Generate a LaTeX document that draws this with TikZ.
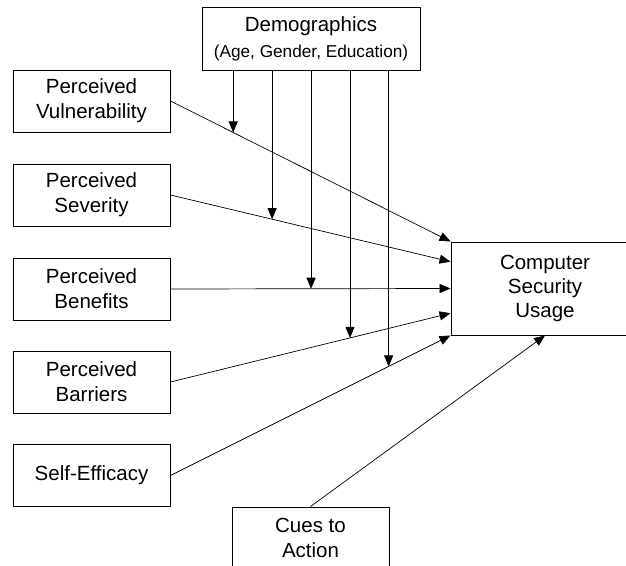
\documentclass[tikz,border=0pt]{standalone}
\usepackage{fontspec}
\setmainfont{Liberation Sans}
\usetikzlibrary{arrows.meta,calc}

\begin{document}
\begin{tikzpicture}[x=0.03cm, y=-0.03cm,
  factor/.style={draw, line width=0.8pt, inner sep=0pt, align=center,
    minimum width=4.71cm, minimum height=1.86cm,
    font=\fontsize{17.5}{21.3}\selectfont},
  link/.style={line width=0.6pt, -{Triangle[length=9.4pt,width=7.7pt]}}]
\path[use as bounding box, clip] (0,0) rectangle (626,565);

\node[factor] (vul) at (91.5,101) {Perceived\\Vulnerability};
\node[factor] (sev) at (91.5,195) {Perceived\\Severity};
\node[factor] (ben) at (91.5,289) {Perceived\\Benefits};
\node[factor] (bar) at (91.5,382) {Perceived\\Barriers};
\node[factor] (eff) at (91.5,475.5) {Self-Efficacy};

\node[factor, minimum width=6.54cm, minimum height=1.89cm,
  font=\fontsize{17.5}{22.2}\selectfont] (demo) at (311,38.5)
  {Demographics\\{\fontsize{14.7}{17}\selectfont (Age, Gender, Education)}};

\node[factor, minimum width=5.64cm, minimum height=2.79cm,
  font=\fontsize{17.5}{20.5}\selectfont] (csu) at (545,288.5)
  {Computer\\Security\\Usage};

\node[factor] (cue) at (310.5,538) {Cues to\\Action};

\coordinate (sevend) at ($(csu.north west)!0.215!(csu.south west)$);
\coordinate (barend) at ($(csu.north west)!0.763!(csu.south west)$);

\draw[link] (vul.east) -- (csu.north west);
\draw[link] (sev.east) -- (sevend);
\draw[link] (ben.east) -- (csu.west);
\draw[link] (bar.east) -- (barend);
\draw[link] (eff.east) -- (csu.south west);
\draw[link] (cue.north) -- (csu.south);

% demographics acting on each path
\coordinate (m1) at ($(vul.east)!0.224!(csu.north west)$);
\coordinate (m2) at ($(sev.east)!0.363!(sevend)$);
\coordinate (m3) at ($(ben.east)!0.502!(csu.west)$);
\coordinate (m4) at ($(bar.east)!0.641!(barend)$);
\coordinate (m5) at ($(eff.east)!0.779!(csu.south west)$);

\foreach \m in {m1,m2,m3,m4,m5}
  \draw[link] (demo.south -| \m) -- (\m);
\end{tikzpicture}
\end{document}
